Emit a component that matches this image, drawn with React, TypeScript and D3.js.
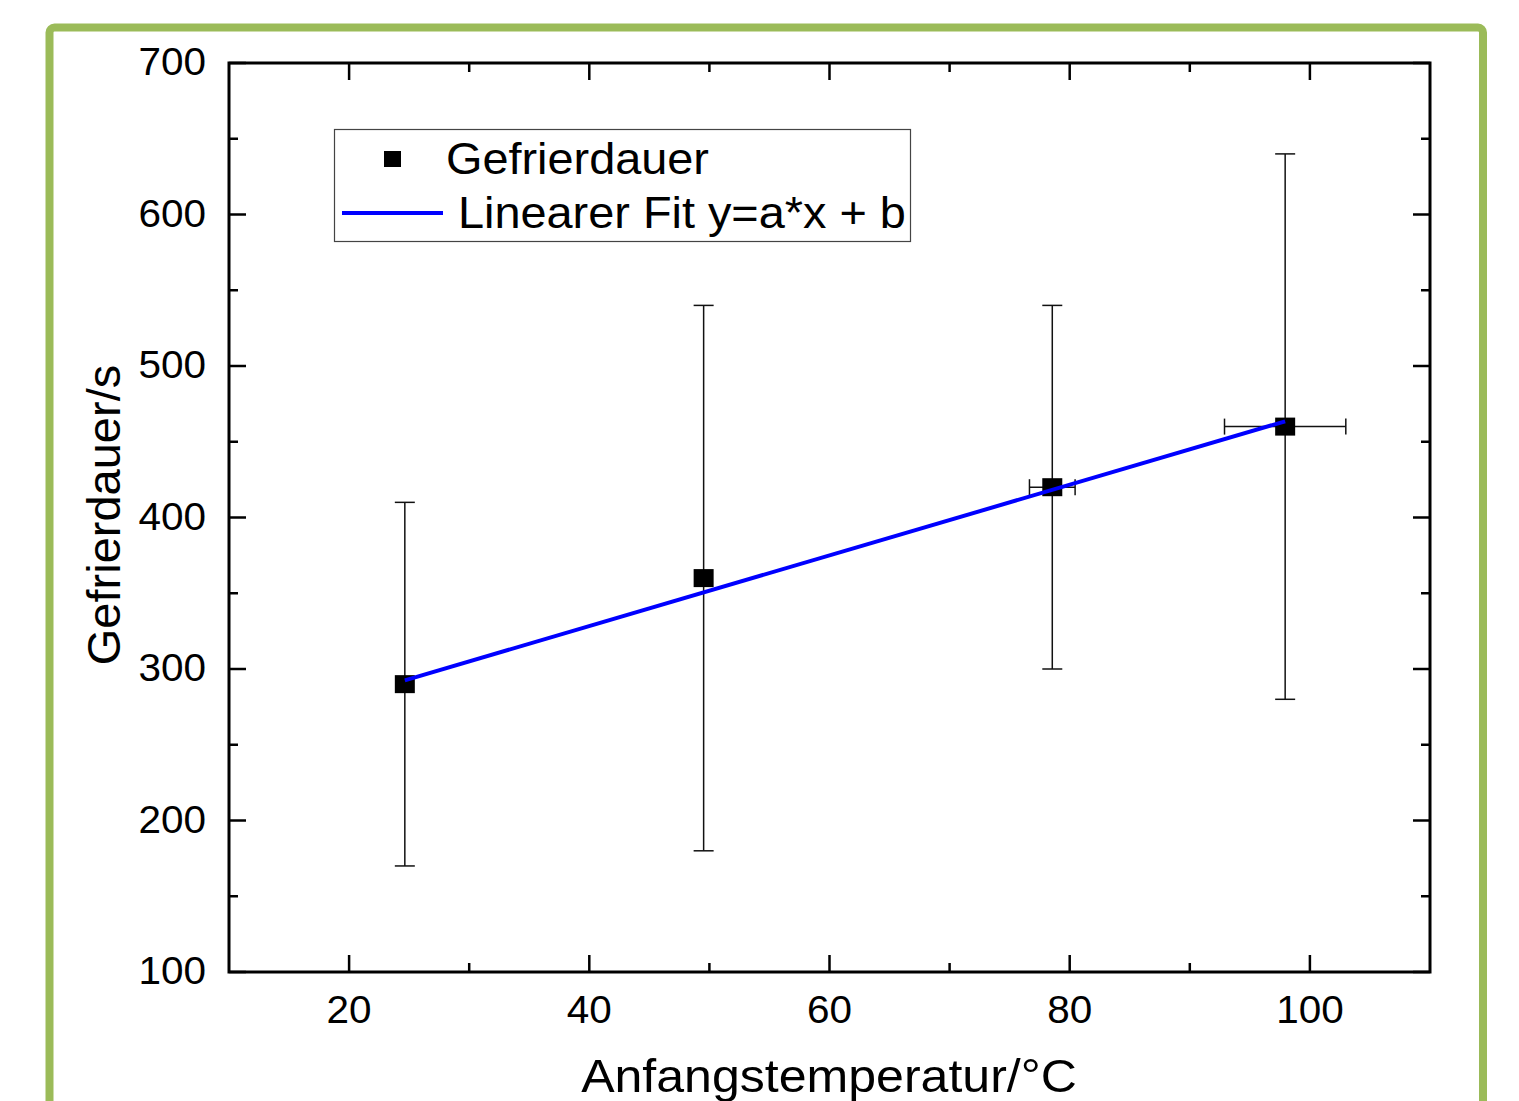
import React, { useEffect, useRef } from "react";
import * as d3 from "d3";

// measured points: start temperature (°C) vs. freezing duration (s)
const temps = [24.64, 49.52, 78.55, 97.94];
const durations = [290, 360, 420, 460];
const durErrLow = [170, 180, 300, 280];
const durErrHigh = [410, 540, 540, 640];
const tempErr = [0, 0, 1.9, 5.05];

// linear fit y = a*x + b
const fitA = 2.333;
const fitB = 235;

const xTicks = [20, 40, 60, 80, 100];
const yTicks = [100, 200, 300, 400, 500, 600, 700];

const legendLabels = ["Gefrierdauer", "Linearer Fit y=a*x + b"];

const W = 1519;
const H = 1101;
const FONT = "'Liberation Sans', Arial, sans-serif";
const SX = 1.065; // the source picture is a bit wider than tall

const App = () => {
  const ref = useRef<SVGSVGElement | null>(null);

  useEffect(() => {
    const svg = d3.select(ref.current);
    svg.selectAll("*").remove();

    const margin = { left: 229, right: W - 1430, top: 63, bottom: H - 972 };
    const x = d3.scaleLinear().domain([10, 110]).range([margin.left, W - margin.right]);
    const y = d3.scaleLinear().domain([100, 700]).range([H - margin.bottom, margin.top]);

    const label = (px: number, py: number, txt: string, size: number, anchor: string) =>
      svg
        .append("g")
        .attr("transform", `translate(${px},${py}) scale(${SX},1)`)
        .append("text")
        .attr("text-anchor", anchor)
        .attr("font-family", FONT)
        .attr("font-size", size)
        .text(txt);

    // green outer frame
    svg
      .append("rect")
      .attr("x", 49.5)
      .attr("y", 27.5)
      .attr("width", 1433.5)
      .attr("height", 1120)
      .attr("rx", 5)
      .attr("fill", "none")
      .attr("stroke", "#9bbb59")
      .attr("stroke-width", 8);

    const x0 = x(10), x1 = x(110), y0 = y(100), y1 = y(700);

    // axes with inward ticks (Origin style)
    const xMinor = d3.range(30, 110, 20);
    const yMinor = d3.range(150, 700, 100);
    const tk = svg.append("g").attr("stroke", "#000").attr("stroke-width", 2.5);
    xTicks.forEach((t) => {
      tk.append("line").attr("x1", x(t)).attr("x2", x(t)).attr("y1", y0).attr("y2", y0 - 17);
      tk.append("line").attr("x1", x(t)).attr("x2", x(t)).attr("y1", y1).attr("y2", y1 + 17);
    });
    xMinor.forEach((t) => {
      tk.append("line").attr("x1", x(t)).attr("x2", x(t)).attr("y1", y0).attr("y2", y0 - 9);
      tk.append("line").attr("x1", x(t)).attr("x2", x(t)).attr("y1", y1).attr("y2", y1 + 9);
    });
    yTicks.forEach((t) => {
      tk.append("line").attr("x1", x0).attr("x2", x0 + 17).attr("y1", y(t)).attr("y2", y(t));
      tk.append("line").attr("x1", x1).attr("x2", x1 - 17).attr("y1", y(t)).attr("y2", y(t));
    });
    yMinor.forEach((t) => {
      tk.append("line").attr("x1", x0).attr("x2", x0 + 9).attr("y1", y(t)).attr("y2", y(t));
      tk.append("line").attr("x1", x1).attr("x2", x1 - 9).attr("y1", y(t)).attr("y2", y(t));
    });

    svg
      .append("rect")
      .attr("x", x0)
      .attr("y", y1)
      .attr("width", x1 - x0)
      .attr("height", y0 - y1)
      .attr("fill", "none")
      .attr("stroke", "#000")
      .attr("stroke-width", 3);

    // tick labels
    xTicks.forEach((d) => label(x(d), 1023, String(d), 38, "middle"));
    yTicks.forEach((d) => label(206, y(d) + 12, String(d), 38, "end"));

    // axis titles
    label(829, 1092, "Anfangstemperatur/°C", 47, "middle");

    svg
      .append("text")
      .attr("transform", `translate(120, ${515}) rotate(-90)`)
      .attr("text-anchor", "middle")
      .attr("font-family", FONT)
      .attr("font-size", 47)
      .text("Gefrierdauer/s");

    // error bars
    const eb = svg.append("g").attr("stroke", "#111").attr("stroke-width", 1.5);
    temps.forEach((t, i) => {
      const cx = x(t);
      const cy = y(durations[i]);
      eb.append("line").attr("x1", cx).attr("x2", cx).attr("y1", y(durErrLow[i])).attr("y2", y(durErrHigh[i]));
      [durErrLow[i], durErrHigh[i]].forEach((v) => {
        eb.append("line").attr("x1", cx - 10).attr("x2", cx + 10).attr("y1", y(v)).attr("y2", y(v));
      });
      if (tempErr[i] > 0) {
        const xl = x(t - tempErr[i]);
        const xr = x(t + tempErr[i]);
        eb.append("line").attr("x1", xl).attr("x2", xr).attr("y1", cy).attr("y2", cy);
        [xl, xr].forEach((xx) => {
          eb.append("line").attr("x1", xx).attr("x2", xx).attr("y1", cy - 8).attr("y2", cy + 8);
        });
      }
    });

    // markers
    svg
      .append("g")
      .selectAll("rect")
      .data(temps)
      .enter()
      .append("rect")
      .attr("x", (d) => x(d) - 10)
      .attr("y", (d, i) => y(durations[i]) - 9)
      .attr("width", 20)
      .attr("height", 18)
      .attr("fill", "#000");

    // fit line
    const fitX = [temps[0], temps[temps.length - 1]];
    const line = d3
      .line<number>()
      .x((d) => x(d))
      .y((d) => y(fitA * d + fitB));
    svg
      .append("path")
      .attr("d", line(fitX))
      .attr("fill", "none")
      .attr("stroke", "#0000ff")
      .attr("stroke-width", 4);

    // legend
    const lg = svg.append("g");
    lg.append("rect")
      .attr("x", 334.5)
      .attr("y", 129.5)
      .attr("width", 576)
      .attr("height", 112)
      .attr("fill", "#fff")
      .attr("stroke", "#444")
      .attr("stroke-width", 1.2);
    lg.append("rect").attr("x", 384).attr("y", 151).attr("width", 17).attr("height", 16).attr("fill", "#000");
    lg.append("line")
      .attr("x1", 342)
      .attr("x2", 443)
      .attr("y1", 213)
      .attr("y2", 213)
      .attr("stroke", "#0000ff")
      .attr("stroke-width", 4);
    label(446, 174, legendLabels[0], 44, "start");
    label(458, 228, legendLabels[1], 44, "start");
  }, []);

  return (
    <svg
      ref={ref}
      width={W}
      height={H}
      style={{ position: "absolute", left: 0, top: 0, background: "#fff" }}
    />
  );
};

export default App;
